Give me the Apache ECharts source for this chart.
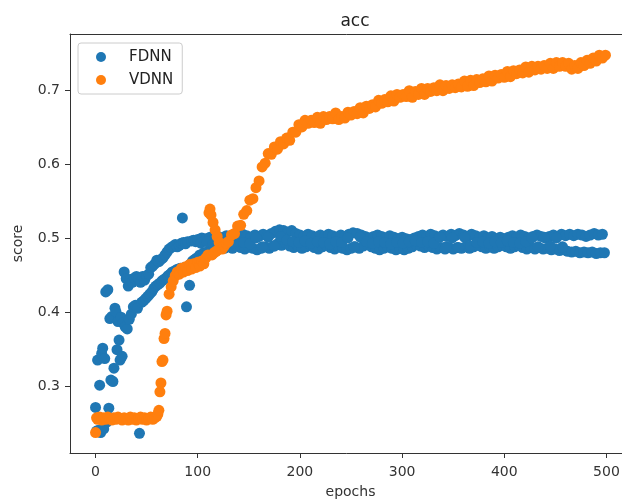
<!DOCTYPE html>
<html>
<head>
<meta charset="utf-8">
<title>acc</title>
<script src="https://cdn.jsdelivr.net/npm/echarts@6.0.0/dist/echarts.min.js"></script>
<style>
  html, body { margin: 0; padding: 0; background: #fff; overflow: hidden; }
  #chart { width: 622px; height: 502px; }
</style>
</head>
<body>
<div id="chart"></div>
<script>
// 刻度
const xTicks = [0, 100, 200, 300, 400, 500]
const yTicks = [0.3, 0.4, 0.5, 0.6, 0.7]

// FDNN: epochs 0-99, one score per epoch
const fdnnEarlyScores = [
  0.272, 0.240, 0.336, 0.241, 0.302, 0.238, 0.345, 0.352, 0.243, 0.338,
  0.428, 0.252, 0.431, 0.271, 0.392, 0.309, 0.395, 0.307, 0.325, 0.406,
  0.401, 0.350, 0.388, 0.363, 0.336, 0.394, 0.341, 0.386, 0.455, 0.381,
  0.446, 0.378, 0.436, 0.391, 0.445, 0.398, 0.441, 0.408, 0.447, 0.410,
  0.449, 0.406, 0.446, 0.237, 0.441, 0.414, 0.449, 0.416, 0.444, 0.419,
  0.450, 0.422, 0.452, 0.425, 0.461, 0.428, 0.463, 0.433, 0.466, 0.436,
  0.471, 0.438, 0.469, 0.440, 0.472, 0.443, 0.474, 0.445, 0.478, 0.447,
  0.482, 0.450, 0.486, 0.452, 0.488, 0.455, 0.490, 0.456, 0.492, 0.458,
  0.489, 0.459, 0.491, 0.460, 0.494, 0.528, 0.495, 0.461, 0.493, 0.408,
  0.496, 0.463, 0.437, 0.466, 0.497, 0.470, 0.498, 0.472, 0.496, 0.474
]
// FDNN upper track: epochs 100, 104, ... 496
const fdnnUpperScores = [
  0.499, 0.501, 0.500, 0.502, 0.499, 0.503, 0.501, 0.504, 0.502, 0.505,
  0.503, 0.506, 0.504, 0.502, 0.505, 0.503, 0.506, 0.504, 0.507, 0.510,
  0.512, 0.511, 0.509, 0.511, 0.507, 0.505, 0.503, 0.506, 0.504, 0.502,
  0.505, 0.503, 0.506, 0.504, 0.502, 0.505, 0.503, 0.506, 0.508, 0.507,
  0.505, 0.503, 0.501, 0.503, 0.505, 0.503, 0.501, 0.504, 0.502, 0.500,
  0.502, 0.500, 0.499, 0.501, 0.503, 0.505, 0.503, 0.506, 0.504, 0.502,
  0.505, 0.503, 0.506, 0.504, 0.507, 0.505, 0.503, 0.506, 0.504, 0.502,
  0.504, 0.501, 0.503, 0.500, 0.502, 0.500, 0.502, 0.504, 0.502, 0.505,
  0.503, 0.501, 0.503, 0.505, 0.503, 0.501, 0.503, 0.505, 0.503, 0.506,
  0.504, 0.506, 0.504, 0.506, 0.505, 0.503, 0.505, 0.507, 0.505, 0.506
]
// FDNN lower track: epochs 102, 106, ... 498
const fdnnLowerScores = [
  0.478, 0.481, 0.483, 0.485, 0.486, 0.488, 0.487, 0.489, 0.487, 0.490,
  0.488, 0.486, 0.489, 0.487, 0.485, 0.487, 0.489, 0.487, 0.490, 0.493,
  0.491, 0.494, 0.490, 0.488, 0.490, 0.487, 0.489, 0.492, 0.488, 0.486,
  0.489, 0.491, 0.488, 0.486, 0.489, 0.487, 0.485, 0.487, 0.489, 0.487,
  0.490, 0.492, 0.489, 0.487, 0.485, 0.487, 0.489, 0.487, 0.485, 0.487,
  0.485, 0.487, 0.489, 0.492, 0.490, 0.488, 0.490, 0.488, 0.486, 0.488,
  0.486, 0.488, 0.486, 0.488, 0.487, 0.489, 0.487, 0.489, 0.491, 0.489,
  0.487, 0.489, 0.487, 0.489, 0.491, 0.489, 0.487, 0.489, 0.491, 0.488,
  0.486, 0.488, 0.486, 0.488, 0.486, 0.487, 0.485, 0.486, 0.484, 0.485,
  0.483, 0.482, 0.483, 0.481, 0.482, 0.481, 0.482, 0.480, 0.481, 0.481
]
// FDNN in-between scores: epochs 103, 109, ... 457
const fdnnMidScores = [
  0.494, 0.496, 0.493, 0.495, 0.497, 0.494, 0.496, 0.495, 0.493, 0.501,
  0.489, 0.502, 0.490, 0.503, 0.498, 0.496, 0.495, 0.497, 0.494, 0.496,
  0.495, 0.493, 0.496, 0.495, 0.501, 0.489, 0.502, 0.496, 0.494, 0.496,
  0.495, 0.493, 0.495, 0.494, 0.496, 0.497, 0.495, 0.496, 0.494, 0.502,
  0.489, 0.501, 0.488, 0.502, 0.490, 0.495, 0.496, 0.494, 0.496, 0.495,
  0.497, 0.495, 0.494, 0.496, 0.501, 0.489, 0.502, 0.490, 0.501, 0.489
]

// VDNN: early epochs (irregular spacing)
const vdnnEarlyEpochs = [
  0, 1, 2, 4, 6, 8, 10, 12, 14, 16, 18, 20, 22, 24, 26, 28, 30, 32, 34, 36,
  38, 40, 42, 44, 46, 48, 50, 52, 54, 56, 58, 60, 61, 62, 63, 64, 65, 66, 67, 68,
  69, 70, 72, 74, 76, 78, 80, 82, 84, 86, 88, 90, 92, 94, 96, 98, 100, 102, 104, 106,
  108, 110, 111, 112, 113, 114, 115, 116, 117, 118, 119, 120, 121, 122, 124, 126, 128
]
const vdnnEarlyScores = [
  0.238, 0.258, 0.256, 0.259, 0.255, 0.258, 0.256, 0.259, 0.257, 0.255, 0.258, 0.256, 0.259, 0.257, 0.255, 0.258, 0.257, 0.255, 0.259, 0.256,
  0.258, 0.255, 0.257, 0.259, 0.256, 0.258, 0.255, 0.257, 0.259, 0.256, 0.258, 0.260, 0.263, 0.268, 0.293, 0.305, 0.334, 0.336, 0.365, 0.372,
  0.397, 0.402, 0.425, 0.435, 0.443, 0.450, 0.455, 0.452, 0.460, 0.455, 0.462, 0.457, 0.465, 0.459, 0.466, 0.461, 0.468, 0.463, 0.470, 0.466,
  0.474, 0.478, 0.535, 0.540, 0.532, 0.478, 0.522, 0.481, 0.512, 0.483, 0.503, 0.485, 0.495, 0.487, 0.486, 0.490, 0.494
]
// VDNN: epochs 130, 133, ... 499
const vdnnLateScores = [
  0.496, 0.505, 0.507, 0.517, 0.518, 0.533, 0.538, 0.552, 0.554, 0.569,
  0.578, 0.597, 0.602, 0.615, 0.614, 0.624, 0.621, 0.631, 0.628, 0.636,
  0.633, 0.644, 0.644, 0.654, 0.651, 0.660, 0.656, 0.660, 0.657, 0.664,
  0.656, 0.665, 0.661, 0.665, 0.662, 0.670, 0.661, 0.665, 0.663, 0.671,
  0.667, 0.672, 0.669, 0.677, 0.670, 0.679, 0.676, 0.681, 0.678, 0.687,
  0.683, 0.688, 0.685, 0.693, 0.686, 0.695, 0.691, 0.695, 0.692, 0.700,
  0.691, 0.699, 0.695, 0.703, 0.695, 0.703, 0.699, 0.704, 0.700, 0.708,
  0.700, 0.707, 0.703, 0.708, 0.704, 0.709, 0.705, 0.713, 0.706, 0.714,
  0.707, 0.715, 0.711, 0.716, 0.712, 0.720, 0.713, 0.721, 0.717, 0.722,
  0.718, 0.726, 0.719, 0.727, 0.723, 0.728, 0.724, 0.732, 0.725, 0.733,
  0.728, 0.733, 0.729, 0.734, 0.730, 0.737, 0.730, 0.738, 0.733, 0.738,
  0.733, 0.737, 0.729, 0.734, 0.730, 0.738, 0.734, 0.741, 0.737, 0.744,
  0.740, 0.748, 0.744, 0.748
]

// 把 epoch 和 score 拼成 [x, y]
function pairs(epochs, scores) {
  const n = Math.min(epochs.length, scores.length)
  const out = []
  for (let i = 0; i < n; i++) out.push([epochs[i], scores[i]])
  return out
}
function stepPairs(start, step, scores) {
  return scores.map((s, i) => [start + i * step, s])
}

const fdnnData = []
  .concat(stepPairs(0, 1, fdnnEarlyScores))
  .concat(stepPairs(100, 4, fdnnUpperScores))
  .concat(stepPairs(102, 4, fdnnLowerScores))
  .concat(stepPairs(103, 6, fdnnMidScores))
const vdnnData = []
  .concat(pairs(vdnnEarlyEpochs, vdnnEarlyScores))
  .concat(stepPairs(130, 3, vdnnLateScores))

const font = 'DejaVu Sans'
const axisColor = '#333'
const xMin = -25
const xMax = 524

const chart = echarts.init(document.getElementById('chart'))
const option = {
  animation: false,
  backgroundColor: '#fff',
  title: {
    text: 'acc',
    left: 350,
    top: 8,
    textAlign: 'center',
    textStyle: { fontFamily: font, fontSize: 17, fontWeight: 'normal', color: '#222' }
  },
  legend: {
    orient: 'vertical',
    left: 78,
    top: 43,
    padding: [6, 9, 6, 18],
    itemWidth: 30,
    itemHeight: 10,
    itemGap: 7,
    icon: 'circle',
    borderColor: '#ccc',
    borderWidth: 1,
    borderRadius: 3,
    textStyle: { fontFamily: font, fontSize: 15, color: '#222', lineHeight: 16, padding: [0, 0, 0, 8] },
    data: ['FDNN', 'VDNN']
  },
  // 右边框在画布外面
  grid: {
    left: 70,
    top: 34,
    width: 561,
    bottom: 49,
    outerBoundsMode: 'none'
  },
  xAxis: [
    {
      type: 'value',
      min: xMin,
      max: xMax,
      name: 'epochs',
      nameLocation: 'middle',
      nameGap: 32,
      nameTextStyle: { fontFamily: font, fontSize: 14, color: '#333' },
      axisLine: { onZero: false, lineStyle: { color: axisColor } },
      axisTick: { length: 5, customValues: xTicks, lineStyle: { color: axisColor } },
      axisLabel: { customValues: xTicks, margin: 12, fontFamily: font, fontSize: 14, color: '#333' },
      splitLine: { show: false }
    },
    {
      // top spine only
      type: 'value',
      position: 'top',
      min: xMin,
      max: xMax,
      axisLine: { onZero: false, lineStyle: { color: axisColor } },
      axisTick: { show: false },
      axisLabel: { show: false },
      splitLine: { show: false }
    }
  ],
  yAxis: {
    type: 'value',
    min: 0.2104,
    max: 0.7766,
    name: 'score',
    nameLocation: 'middle',
    nameGap: 45,
    nameTextStyle: { fontFamily: font, fontSize: 14, color: '#333' },
    axisLine: { show: true, onZero: false, lineStyle: { color: axisColor } },
    axisTick: { show: true, length: 5, customValues: yTicks, lineStyle: { color: axisColor } },
    axisLabel: {
      customValues: yTicks,
      margin: 10,
      fontFamily: font,
      fontSize: 14,
      color: '#333',
      formatter: v => v.toFixed(1)
    },
    splitLine: { show: false }
  },
  series: [
    {
      name: 'FDNN',
      type: 'scatter',
      symbolSize: 11,
      itemStyle: { color: '#1f77b4', opacity: 1 },
      data: fdnnData
    },
    {
      name: 'VDNN',
      type: 'scatter',
      symbolSize: 11,
      itemStyle: { color: '#ff7f0e', opacity: 1 },
      data: vdnnData
    }
  ]
}
chart.setOption(option)
</script>
</body>
</html>
